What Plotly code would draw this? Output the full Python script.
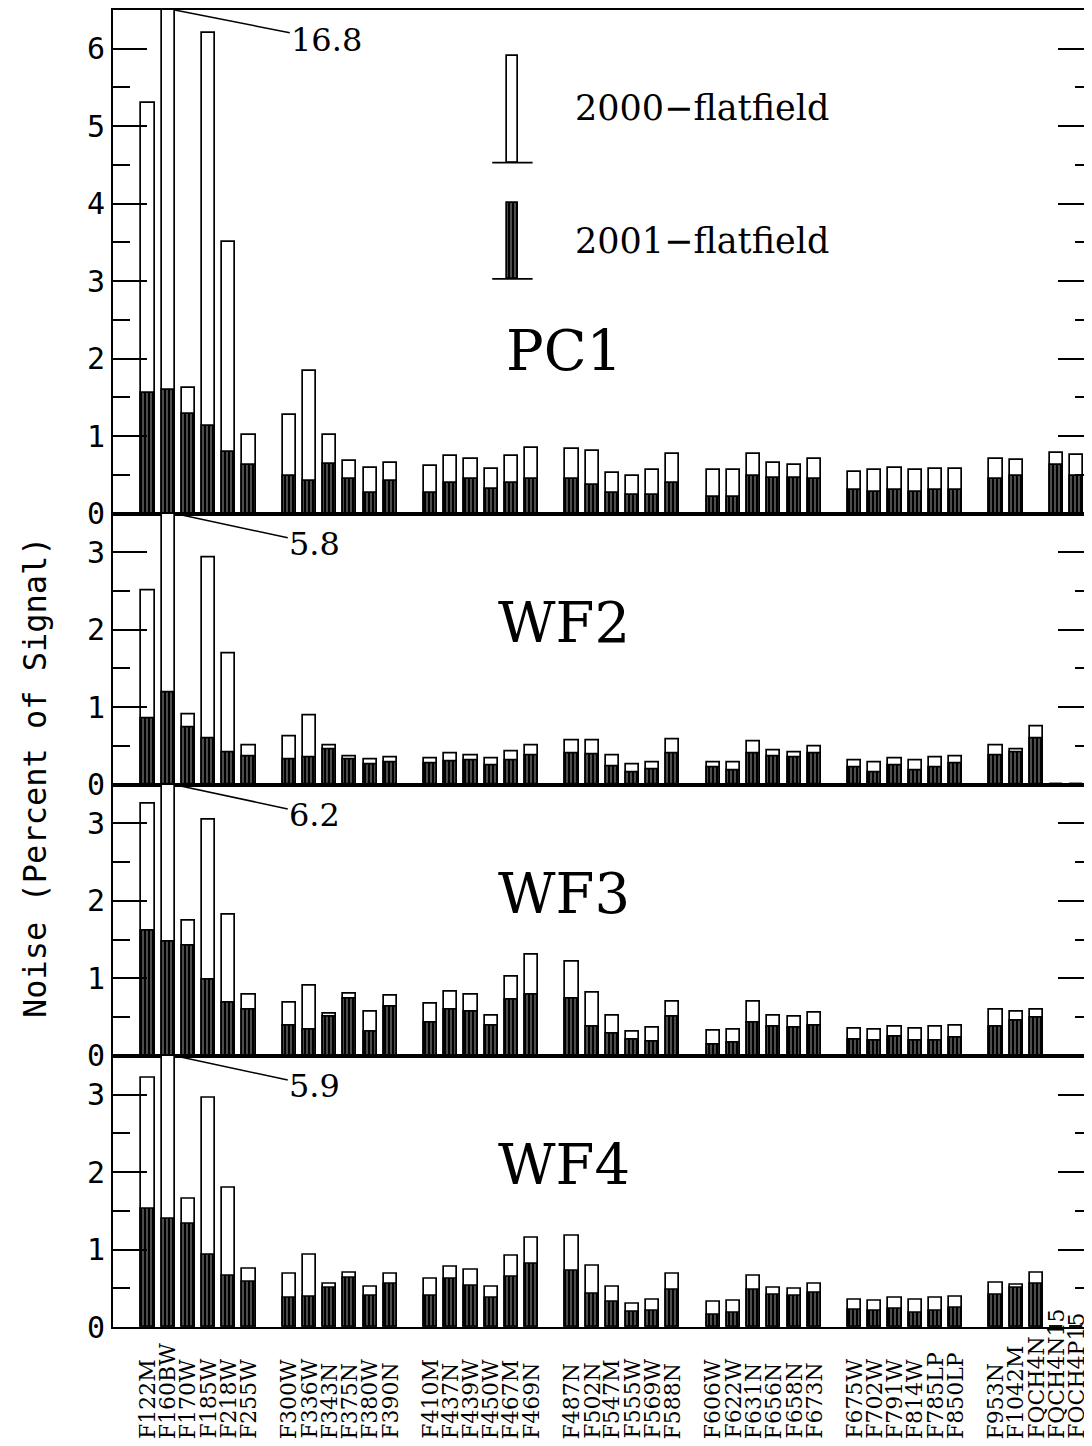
import plotly.graph_objects as go
from plotly.subplots import make_subplots

# ---------------- data ----------------
groups = [
    ["F122M", "F160BW", "F170W", "F185W", "F218W", "F255W"],
    ["F300W", "F336W", "F343N", "F375N", "F380W", "F390N"],
    ["F410M", "F437N", "F439W", "F450W", "F467M", "F469N"],
    ["F487N", "F502N", "F547M", "F555W", "F569W", "F588N"],
    ["F606W", "F622W", "F631N", "F656N", "F658N", "F673N"],
    ["F675W", "F702W", "F791W", "F814W", "F785LP", "F850LP"],
    ["F953N", "F1042M", "FQCH4N", "FQCH4N15", "FQCH4P15"],
]

pc1_2000 = [5.30, 16.8, 1.62, 6.20, 3.50, 1.01,
            1.27, 1.84, 1.02, 0.68, 0.59, 0.65,
            0.62, 0.74, 0.70, 0.58, 0.74, 0.84,
            0.83, 0.81, 0.52, 0.49, 0.56, 0.77,
            0.56, 0.56, 0.77, 0.65, 0.63, 0.70,
            0.54, 0.56, 0.59, 0.56, 0.57, 0.57,
            0.70, 0.69, 0.0, 0.78, 0.75]
pc1_2001 = [1.55, 1.59, 1.28, 1.13, 0.80, 0.63,
            0.49, 0.42, 0.64, 0.44, 0.26, 0.42,
            0.27, 0.40, 0.44, 0.32, 0.40, 0.45,
            0.45, 0.37, 0.26, 0.24, 0.24, 0.40,
            0.21, 0.21, 0.48, 0.46, 0.46, 0.44,
            0.31, 0.28, 0.30, 0.28, 0.30, 0.31,
            0.44, 0.49, 0.0, 0.63, 0.49]

wf2_2000 = [2.50, 5.8, 0.91, 2.93, 1.69, 0.50,
            0.62, 0.89, 0.50, 0.36, 0.32, 0.345,
            0.34, 0.40, 0.375, 0.34, 0.43, 0.50,
            0.57, 0.57, 0.37, 0.26, 0.29, 0.58,
            0.285, 0.29, 0.555, 0.44, 0.42, 0.495,
            0.31, 0.29, 0.34, 0.31, 0.345, 0.36,
            0.50, 0.45, 0.755, 0.0, 0.0]
wf2_2001 = [0.86, 1.19, 0.74, 0.595, 0.41, 0.36,
            0.32, 0.345, 0.46, 0.32, 0.26, 0.285,
            0.27, 0.30, 0.31, 0.25, 0.31, 0.37,
            0.40, 0.39, 0.24, 0.155, 0.19, 0.40,
            0.215, 0.185, 0.40, 0.36, 0.35, 0.40,
            0.215, 0.16, 0.245, 0.18, 0.215, 0.27,
            0.37, 0.42, 0.60, 0.0, 0.0]

wf3_2000 = [3.25, 6.2, 1.75, 3.05, 1.82, 0.79,
            0.69, 0.91, 0.55, 0.80, 0.57, 0.78,
            0.67, 0.83, 0.795, 0.52, 1.02, 1.30,
            1.21, 0.82, 0.52, 0.31, 0.36, 0.705,
            0.33, 0.34, 0.70, 0.52, 0.51, 0.56,
            0.355, 0.34, 0.38, 0.355, 0.38, 0.39,
            0.59, 0.57, 0.60, 0.0, 0.0]
wf3_2001 = [1.61, 1.47, 1.42, 0.98, 0.68, 0.59,
            0.385, 0.34, 0.50, 0.74, 0.31, 0.64,
            0.43, 0.60, 0.57, 0.39, 0.73, 0.79,
            0.74, 0.37, 0.29, 0.205, 0.18, 0.50,
            0.15, 0.175, 0.43, 0.37, 0.36, 0.39,
            0.21, 0.19, 0.25, 0.20, 0.20, 0.23,
            0.37, 0.46, 0.49, 0.0, 0.0]

wf4_2000 = [3.22, 5.9, 1.65, 2.96, 1.79, 0.75,
            0.69, 0.93, 0.56, 0.70, 0.52, 0.69,
            0.62, 0.77, 0.74, 0.515, 0.92, 1.15,
            1.18, 0.79, 0.515, 0.30, 0.35, 0.69,
            0.33, 0.335, 0.665, 0.51, 0.49, 0.56,
            0.35, 0.335, 0.38, 0.35, 0.38, 0.395,
            0.575, 0.545, 0.70, 0.0, 0.0]
wf4_2001 = [1.52, 1.39, 1.33, 0.93, 0.66, 0.58,
            0.38, 0.39, 0.50, 0.64, 0.40, 0.56,
            0.40, 0.62, 0.53, 0.38, 0.65, 0.82,
            0.72, 0.43, 0.33, 0.20, 0.205, 0.485,
            0.155, 0.185, 0.475, 0.41, 0.40, 0.44,
            0.215, 0.205, 0.235, 0.185, 0.205, 0.25,
            0.41, 0.50, 0.56, 0.0, 0.0]

panels = ["PC1", "WF2", "WF3", "WF4"]
y_max = [6.5, 3.5, 3.5, 3.5]
y_ticks = [[0, 1, 2, 3, 4, 5, 6], [0, 1, 2, 3], [0, 1, 2, 3], [0, 1, 2, 3]]
series_2000 = [pc1_2000, wf2_2000, wf3_2000, wf4_2000]
series_2001 = [pc1_2001, wf2_2001, wf3_2001, wf4_2001]
legend_labels = ["2000\u2212flatfield", "2001\u2212flatfield"]
y_title = "Noise (Percent of Signal)"

# ---------------- layout ----------------
filters, slots = [], []
for g, names in enumerate(groups):
    for i, n in enumerate(names):
        filters.append(n)
        slots.append(g * 7 + i)

# page body has an ~8px margin: size the figure so it ends at the window edge
BODY = 8
W, H = 1092 - BODY, 1446 - BODY
ML, MR, MT, MB = 113 - BODY, 0, 2, 1446 - 1327
PW, PH = W - ML - MR, H - MT - MB
BAR_W = 0.65
SERIF = "DejaVu Serif"
MONO = "DejaVu Sans Mono"

fig = make_subplots(rows=4, cols=1, shared_xaxes=True, vertical_spacing=0,
                    row_heights=y_max)

hatch = dict(shape="|", fillmode="overlay", fgcolor="white", size=4, solidity=0.3)

for r in range(4):
    fig.add_trace(go.Bar(x=slots, y=series_2000[r], width=BAR_W,
                         marker=dict(color="white", line=dict(color="black", width=1.7)),
                         showlegend=False, hoverinfo="skip"), row=r + 1, col=1)
    fig.add_trace(go.Bar(x=slots, y=series_2001[r], width=BAR_W,
                         marker=dict(color="black", line=dict(color="black", width=1.7),
                                     pattern=hatch),
                         showlegend=False, hoverinfo="skip"), row=r + 1, col=1)

# legend glyphs (in PC1 panel)
LEG_X = 18.05
leg_bases = [4.53, 3.03]
leg_heights = [1.38, 0.98]
fig.add_trace(go.Bar(x=[LEG_X], y=[leg_heights[0]], base=[leg_bases[0]], width=0.55,
                     marker=dict(color="white", line=dict(color="black", width=1.7)),
                     showlegend=False, hoverinfo="skip"), row=1, col=1)
fig.add_trace(go.Bar(x=[LEG_X], y=[leg_heights[1]], base=[leg_bases[1]], width=0.55,
                     marker=dict(color="black", line=dict(color="black", width=1.7),
                                 pattern=hatch),
                     showlegend=False, hoverinfo="skip"), row=1, col=1)
for b in leg_bases:
    fig.add_shape(type="line", x0=LEG_X - 1.0, x1=LEG_X + 1.0, y0=b, y1=b,
                  line=dict(color="black", width=1.8), xref="x", yref="y")
leg_text_y = [5.24, 3.52]
for ty, lab in zip(leg_text_y, legend_labels):
    fig.add_annotation(x=21.05, y=ty, xref="x", yref="y",
                       text=lab, showarrow=False, xanchor="left", yanchor="middle",
                       font=dict(family=SERIF, size=35, color="black"))

x_range = [-1.733, -1.733 + PW / 20.19]

for r in range(4):
    fig.update_yaxes(range=[0, y_max[r]], tickvals=y_ticks[r], ticks="inside",
                     ticklen=34, tickwidth=1.8, tickcolor="black",
                     minor=dict(dtick=0.5, ticks="inside", ticklen=17, tickwidth=1.8,
                                tickcolor="black", showgrid=False),
                     showline=True, linewidth=2, linecolor="black", mirror="ticks",
                     showgrid=False, zeroline=False,
                     tickfont=dict(family=MONO, size=30, color="black"),
                     row=r + 1, col=1)
    fig.update_xaxes(range=x_range, showticklabels=False, ticks="",
                     showline=True, linewidth=2, linecolor="black", mirror=True,
                     showgrid=False, zeroline=False, row=r + 1, col=1)

    ax_s = "" if r == 0 else str(r + 1)
    # panel name
    fig.add_annotation(x=20.6, y=2.1, xref="x" + ax_s, yref="y" + ax_s,
                       text=panels[r], showarrow=False,
                       xanchor="center", yanchor="middle",
                       font=dict(family=SERIF, size=56, color="black"))
    # off-scale value for F160BW
    val = series_2000[r][1]
    fig.add_annotation(x=slots[1] + BAR_W / 2, y=y_max[r], xref="x" + ax_s, yref="y" + ax_s,
                       text=f"{val:g}", showarrow=True, arrowhead=0, arrowwidth=1.5,
                       arrowcolor="black", ax=152 if r == 0 else 140, ay=30,
                       standoff=0, font=dict(family=SERIF, size=32, color="black"))

# x tick labels (vertical, reading upward, aligned at bottom)
for s, n in zip(slots, filters):
    fig.add_annotation(x=s, y=-(1441 - 1327) / PH, xref="x4", yref="paper",
                       text=n, textangle=-90, showarrow=False, yanchor="bottom",
                       xanchor="center",
                       font=dict(family=SERIF, size=22, color="black"))

fig.add_annotation(x=(35 - 113) / PW, y=(1327 - 777) / PH,
                   xref="paper", yref="paper", text=y_title, textangle=-90,
                   showarrow=False, xanchor="center", yanchor="middle",
                   font=dict(family=MONO, size=32, color="black"))

fig.update_layout(width=W, height=H, margin=dict(l=ML, r=MR, t=MT, b=MB, autoexpand=False),
                  barmode="overlay", bargap=0, plot_bgcolor="white",
                  paper_bgcolor="white", showlegend=False)

fig.write_html("out.html")
